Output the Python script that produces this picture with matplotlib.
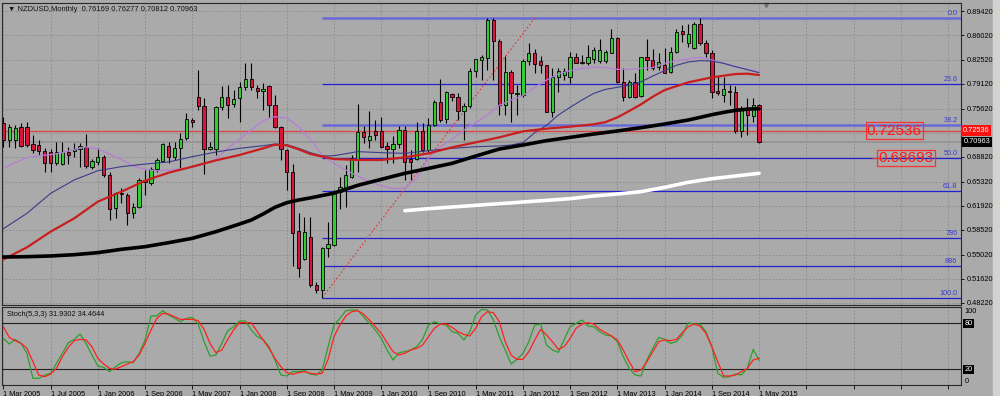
import matplotlib
matplotlib.use("Agg")
import matplotlib.pyplot as plt
from matplotlib.patches import Rectangle

# ---- data (monthly NZDUSD, bar index 0 = leftmost) ----
opens = [0.7365, 0.7120, 0.7120, 0.7299, 0.7309, 0.7059, 0.7045, 0.6970, 0.6956, 0.6791,
         0.6781, 0.6956, 0.6970, 0.6993, 0.7026, 0.6744, 0.6814, 0.6885, 0.6626, 0.6155,
         0.6377, 0.6344, 0.6085, 0.6179, 0.6556, 0.6518, 0.6706, 0.6829, 0.7040, 0.6885,
         0.7003, 0.7144, 0.7403, 0.7723, 0.7601, 0.6993, 0.6989, 0.7591, 0.7723, 0.7629,
         0.7709, 0.7864, 0.7982, 0.7850, 0.7817, 0.7883, 0.7610, 0.7299, 0.6979, 0.6673,
         0.5840, 0.5435, 0.5755, 0.5073, 0.5002, 0.5590, 0.5638, 0.6391, 0.6438, 0.6593,
         0.6847, 0.7238, 0.7120, 0.7248, 0.7248, 0.7036, 0.6989, 0.7059, 0.7262, 0.6847,
         0.6847, 0.7248, 0.6979, 0.7332, 0.7662, 0.7412, 0.7765, 0.7732, 0.7530, 0.7601,
         0.8095, 0.8250, 0.8274, 0.8815, 0.8523, 0.7615, 0.8085, 0.7770, 0.7756, 0.8241,
         0.8344, 0.8241, 0.8180, 0.7521, 0.8005, 0.8038, 0.8005, 0.8288, 0.8226, 0.8203,
         0.8259, 0.8241, 0.8241, 0.8354, 0.8556, 0.7944, 0.7732, 0.7944, 0.7742, 0.8288,
         0.8250, 0.8156, 0.8180, 0.8085, 0.8368, 0.8660, 0.8485, 0.8415, 0.8754, 0.8495,
         0.8354, 0.7817, 0.7756, 0.7817, 0.7794, 0.7252, 0.7544, 0.7459, 0.76169]
highs = [0.7450, 0.7346, 0.7332, 0.7365, 0.7370, 0.7191, 0.7120, 0.7003, 0.6989, 0.7097,
         0.7097, 0.7026, 0.7083, 0.7073, 0.7200, 0.6847, 0.7003, 0.6909, 0.6673, 0.6391,
         0.6438, 0.6377, 0.6226, 0.6579, 0.6697, 0.6744, 0.6861, 0.7083, 0.7097, 0.7097,
         0.7215, 0.7497, 0.7426, 0.8109, 0.7709, 0.7097, 0.7601, 0.7883, 0.7897, 0.7827,
         0.7944, 0.8212, 0.8203, 0.7897, 0.7921, 0.7897, 0.7756, 0.7318, 0.6989, 0.6781,
         0.6085, 0.6038, 0.6038, 0.5120, 0.5614, 0.5967, 0.6414, 0.6603, 0.6767, 0.6909,
         0.7624, 0.7318, 0.7530, 0.7403, 0.7450, 0.7097, 0.7177, 0.7318, 0.7318, 0.6979,
         0.7370, 0.7365, 0.7426, 0.7685, 0.7977, 0.7817, 0.7789, 0.7779, 0.7648, 0.8132,
         0.8264, 0.8321, 0.8838, 0.8838, 0.8542, 0.8307, 0.8109, 0.7897, 0.8259, 0.8485,
         0.8401, 0.8307, 0.8185, 0.8132, 0.8132, 0.8132, 0.8368, 0.8344, 0.8321, 0.8462,
         0.8429, 0.8542, 0.8391, 0.8683, 0.8580, 0.8132, 0.7968, 0.8062, 0.8297, 0.8542,
         0.8401, 0.8344, 0.8415, 0.8429, 0.8683, 0.8744, 0.8758, 0.8791, 0.8838, 0.8532,
         0.8391, 0.8024, 0.8005, 0.7897, 0.7883, 0.7601, 0.7709, 0.7709, 0.76277]
lows = [0.7026, 0.7026, 0.7003, 0.7026, 0.7022, 0.6932, 0.6909, 0.6673, 0.6673, 0.6767,
        0.6767, 0.6781, 0.6885, 0.6744, 0.6720, 0.6706, 0.6767, 0.6603, 0.5991, 0.6014,
        0.6226, 0.5920, 0.6014, 0.6155, 0.6344, 0.6485, 0.6673, 0.6814, 0.6791, 0.6838,
        0.6720, 0.7120, 0.7309, 0.7544, 0.6640, 0.6979, 0.6909, 0.7544, 0.7426, 0.7591,
        0.7379, 0.7827, 0.7827, 0.7709, 0.7544, 0.7450, 0.7285, 0.6838, 0.6414, 0.5341,
        0.5191, 0.5426, 0.5049, 0.4965, 0.4896, 0.5473, 0.5624, 0.6141, 0.6179, 0.6579,
        0.6673, 0.7073, 0.7003, 0.7120, 0.7003, 0.6800, 0.6800, 0.7003, 0.6556, 0.6556,
        0.6838, 0.6956, 0.6956, 0.7318, 0.7379, 0.7356, 0.7676, 0.7403, 0.7120, 0.7568,
        0.8015, 0.7968, 0.8109, 0.7968, 0.7473, 0.7473, 0.7379, 0.7473, 0.7732, 0.8180,
        0.8071, 0.8071, 0.7515, 0.7440, 0.7803, 0.7968, 0.7921, 0.8203, 0.8194, 0.8180,
        0.8203, 0.8203, 0.8203, 0.8344, 0.7930, 0.7676, 0.7709, 0.7709, 0.7732, 0.8109,
        0.8109, 0.8109, 0.8062, 0.8062, 0.8344, 0.8509, 0.8438, 0.8401, 0.8462, 0.8297,
        0.7709, 0.7756, 0.7662, 0.7615, 0.7215, 0.7167, 0.7191, 0.7379, 0.70812]
closes = [0.7120, 0.7309, 0.7295, 0.7040, 0.7045, 0.6979, 0.6970, 0.6800, 0.6791, 0.6956,
          0.6956, 0.6909, 0.6989, 0.7036, 0.6753, 0.6819, 0.6876, 0.6626, 0.6141, 0.6367,
          0.6353, 0.6085, 0.6179, 0.6556, 0.6527, 0.6706, 0.6838, 0.7059, 0.6885, 0.7003,
          0.7139, 0.7417, 0.7370, 0.7601, 0.6989, 0.7017, 0.7591, 0.7723, 0.7615, 0.7695,
          0.7864, 0.7987, 0.7864, 0.7817, 0.7836, 0.7615, 0.7299, 0.6989, 0.6673, 0.5812,
          0.5308, 0.5817, 0.5073, 0.5002, 0.5590, 0.5647, 0.6391, 0.6452, 0.6626, 0.6871,
          0.7229, 0.7167, 0.7177, 0.7191, 0.7026, 0.6989, 0.7064, 0.7262, 0.6814, 0.6814,
          0.7248, 0.6979, 0.7332, 0.7662, 0.7403, 0.7798, 0.7723, 0.7530, 0.7601, 0.8095,
          0.8259, 0.8288, 0.8815, 0.8523, 0.7615, 0.8085, 0.7779, 0.7789, 0.8241, 0.8344,
          0.8189, 0.8180, 0.7521, 0.8005, 0.8095, 0.8095, 0.8288, 0.8212, 0.8203, 0.8288,
          0.8391, 0.8391, 0.8368, 0.8556, 0.7944, 0.7732, 0.7944, 0.7723, 0.8288, 0.8250,
          0.8132, 0.8217, 0.8071, 0.8368, 0.8650, 0.8617, 0.8612, 0.8754, 0.8485, 0.8354,
          0.7803, 0.7779, 0.7836, 0.7794, 0.7252, 0.7544, 0.7473, 0.7615, 0.70963]

# moving averages at these bars
black_bars = [0, 4, 8, 12, 16, 20, 24, 28, 32, 36, 40, 42, 44, 46, 48, 50, 52, 56, 60,
              64, 68, 72, 76, 80, 84, 88, 92, 96, 100, 104, 108, 112, 116, 118, 120, 122,
              124, 126, 128]
ma_black = [0.5468, 0.5473, 0.5483, 0.5501, 0.5530, 0.5577, 0.5614, 0.5671, 0.5732, 0.5826,
            0.5934, 0.5991, 0.6076, 0.6170, 0.6235, 0.6273, 0.6303, 0.6370, 0.6480, 0.6565,
            0.6650, 0.6720, 0.6791, 0.6894, 0.6993, 0.7050, 0.7111, 0.7158, 0.7205, 0.7248,
            0.7295, 0.7346, 0.7403, 0.7440, 0.7478, 0.7511, 0.7539, 0.7556, 0.7562]
red_bars = [0, 4, 8, 12, 16, 20, 24, 28, 32, 36, 40, 44, 46, 48, 50, 52, 56, 60, 64, 68,
            72, 76, 80, 84, 88, 92, 96, 100, 102, 104, 106, 108, 110, 112, 116, 120, 124,
            126, 128]
ma_red = [0.5435, 0.5605, 0.5826, 0.6014, 0.6250, 0.6391, 0.6546, 0.6659, 0.6744, 0.6833,
          0.6909, 0.7003, 0.7054, 0.7045, 0.6989, 0.6923, 0.6852, 0.6838, 0.6838, 0.6876,
          0.6932, 0.7017, 0.7087, 0.7158, 0.7243, 0.7281, 0.7309, 0.7342, 0.7374, 0.7440,
          0.7530, 0.7624, 0.7732, 0.7826, 0.7935, 0.8005, 0.8052, 0.8057, 0.8038]
navy_bars = [0, 4, 8, 12, 16, 20, 24, 28, 32, 36, 40, 44, 46, 48, 50, 52, 54, 56, 60, 64,
             68, 72, 76, 80, 84, 86, 88, 90, 92, 94, 96, 98, 100, 102, 104, 106, 108, 110,
             112, 114, 116, 118, 120, 122, 124, 126, 128]
ma_navy = [0.5868, 0.6085, 0.6367, 0.6556, 0.6687, 0.6744, 0.6781, 0.6810, 0.6885, 0.6951,
           0.7003, 0.7040, 0.7064, 0.7055, 0.7003, 0.6942, 0.6894, 0.6899, 0.6956, 0.6942,
           0.6932, 0.6970, 0.7003, 0.7026, 0.7036, 0.7050, 0.7083, 0.7224, 0.7328, 0.7474,
           0.7582, 0.7685, 0.7779, 0.7836, 0.7864, 0.7892, 0.7944, 0.8024, 0.8100, 0.8175,
           0.8222, 0.8241, 0.8236, 0.8203, 0.8156, 0.8114, 0.8071]
violet_bars = list(range(0, 129, 2))
ma_violet = [0.6720, 0.6800, 0.6876, 0.6899, 0.6913, 0.6941, 0.6989, 0.7022, 0.6993, 0.6923,
             0.6847, 0.6753, 0.6706, 0.6687, 0.6697, 0.6711, 0.6734, 0.6781, 0.6852, 0.7003,
             0.7130, 0.7262, 0.7393, 0.7450, 0.7431, 0.7309, 0.7130, 0.6909, 0.6791, 0.6697,
             0.6612, 0.6532, 0.6475, 0.6433, 0.6442, 0.6579, 0.6861, 0.7026, 0.7130, 0.7262,
             0.7365, 0.7473, 0.7610, 0.7685, 0.7746, 0.7864, 0.7968, 0.8053, 0.8100, 0.8132,
             0.8147, 0.8142, 0.8118, 0.8118, 0.8132, 0.8142, 0.8203, 0.8241, 0.8269, 0.8288,
             0.8250, 0.8203, 0.8156, 0.8118, 0.8085]
white_bars = list(range(68, 129, 4))
ma_white = [0.6122, 0.6151, 0.6174, 0.6198, 0.6221, 0.6245, 0.6268, 0.6292, 0.6330, 0.6358,
            0.6391, 0.6452, 0.6523, 0.6574, 0.6612, 0.6650]

# stochastic (5,3,3)
stoch_k = [60.3, 52.9, 59.0, 53.8, 40.8, 8.2, 8.2, 12.5, 14.7, 27.7,
           40.8, 54.7, 59.0, 66.0, 53.8, 38.6, 24.2, 22.5, 16.9, 23.4,
           28.6, 29.9, 28.6, 40.8, 58.2, 89.4, 89.9, 96.4, 90.7, 86.4,
           82.1, 86.4, 87.7, 79.0, 56.0, 37.3, 38.6, 53.8, 70.3, 75.5,
           82.9, 82.9, 71.2, 62.5, 59.0, 49.5, 32.1, 12.5, 11.2, 16.9,
           16.9, 18.2, 13.8, 12.5, 19.0, 49.5, 77.7, 86.4, 96.4, 97.3,
           97.3, 88.6, 79.9, 71.2, 60.3, 45.1, 32.1, 41.6, 43.0, 45.1,
           49.5, 59.0, 77.7, 82.1, 79.0, 77.7, 69.0, 66.8, 58.2, 69.0,
           90.7, 98.1, 97.3, 84.2, 62.5, 45.1, 26.9, 32.9, 40.8, 56.0,
           77.7, 79.0, 51.6, 45.1, 42.1, 59.0, 75.5, 79.9, 84.2, 76.4,
           75.5, 69.0, 64.7, 63.4, 56.0, 36.4, 21.2, 12.5, 11.2, 32.1,
           47.3, 61.6, 59.0, 53.8, 56.0, 64.7, 80.7, 79.0, 79.0, 69.0,
           49.5, 14.7, 9.5, 10.3, 13.8, 12.5, 21.2, 46.0, 31.93]
stoch_d = [75.5, 61.6, 57.3, 53.8, 47.3, 29.9, 12.5, 10.3, 13.8, 21.2,
           36.4, 48.6, 57.3, 59.0, 58.2, 49.5, 34.2, 26.9, 21.2, 20.3,
           23.4, 26.9, 29.9, 38.6, 53.8, 71.2, 86.4, 92.9, 92.0, 88.6,
           85.1, 85.1, 85.1, 83.4, 72.1, 53.8, 41.6, 45.1, 59.0, 71.2,
           80.7, 80.7, 80.7, 69.0, 58.2, 47.3, 34.2, 23.4, 15.6, 13.4,
           15.6, 16.9, 14.7, 13.8, 14.7, 32.9, 62.5, 77.7, 89.4, 95.1,
           96.4, 92.0, 84.2, 75.5, 66.8, 54.7, 43.0, 38.6, 40.8, 45.1,
           47.3, 51.6, 62.5, 73.4, 79.0, 79.0, 74.7, 69.0, 65.5, 63.4,
           73.4, 88.6, 95.1, 93.8, 82.1, 56.0, 38.6, 32.9, 32.9, 43.0,
           58.2, 72.1, 64.7, 56.0, 46.0, 49.5, 60.3, 73.4, 79.0, 80.7,
           79.0, 72.1, 67.7, 63.4, 58.2, 45.1, 29.9, 16.9, 19.0, 29.9,
           43.0, 56.0, 58.2, 57.3, 59.0, 67.7, 75.5, 79.0, 76.4, 66.8,
           49.5, 29.9, 11.2, 11.2, 12.5, 16.9, 21.2, 32.1, 34.46]

# fibonacci retracement anchors
fib_low_bar, fib_low = 54, 0.48955
fib_high_bar, fib_high = 90, 0.88430
fib_levels = [0.0, 23.6, 38.2, 50.0, 61.8, 78.6, 88.6, 100.0]
fib_names = ["0.0", "23.6", "38.2", "50.0", "61.8", "786", "886", "100.0"]

price_ticks = [0.8942, 0.8602, 0.8252, 0.7912, 0.7562, 0.7222, 0.6882, 0.6532,
               0.6192, 0.5852, 0.5502, 0.5162, 0.4822]
date_labels = ["1 Mar 2005", "1 Jul 2005", "1 Jan 2006", "1 Sep 2006", "1 May 2007",
               "1 Jan 2008", "1 Sep 2008", "1 May 2009", "1 Jan 2010", "1 Sep 2010",
               "1 May 2011", "1 Jan 2012", "1 Sep 2012", "1 May 2013", "1 Jan 2014",
               "1 Sep 2014", "1 May 2015"]
line_level = 0.72536
bid = 0.70963
box_level = 0.68693

BG = "#aaaaaa"
GRID = "#8a8a8a"
FONT = ["Liberation Sans", "DejaVu Sans"]
plt.rcParams["font.family"] = FONT

fig = plt.figure(figsize=(10, 3.96), dpi=100, facecolor=BG)
fig.patches.append(Rectangle((0.993, 0), 0.007, 1, transform=fig.transFigure,
                             color="#d4d2ce", zorder=0))

ax = fig.add_axes([0.002, 0.2298, 0.959, 0.7626], facecolor=BG)
ax2 = fig.add_axes([0.002, 0.0278, 0.959, 0.1969], facecolor=BG)

xmin, xmax = -0.23, 162.2
n = len(closes)

# ---- candles ----
for i in range(n):
    up = closes[i] >= opens[i]
    ax.vlines(i, lows[i], highs[i], color="black", lw=0.8, zorder=4)
    lo, hi = min(opens[i], closes[i]), max(opens[i], closes[i])
    ax.add_patch(Rectangle((i - 0.28, lo), 0.56, max(hi - lo, 0.0006),
                           facecolor="#32cd32" if up else "#dc143c",
                           edgecolor="black", lw=0.6, zorder=5))

# ---- moving averages ----
kw = dict(solid_joinstyle="round", solid_capstyle="round")
ax.plot(violet_bars, ma_violet, color="#b77dd8", lw=0.9, zorder=6, **kw)
ax.plot(navy_bars, ma_navy, color="#3c3c8c", lw=0.8, zorder=6, **kw)
ax.plot(red_bars, ma_red, color="#c81e1e", lw=1.6, zorder=6, **kw)
ax.plot(black_bars, ma_black, color="black", lw=2.6, zorder=7, **kw)
ax.plot(white_bars, ma_white, color="white", lw=2.6, zorder=7, **kw)

# ---- horizontal lines ----
ax.axhline(line_level, color="#e04040", lw=0.9, zorder=3)
ax.axhline(bid, color="#939393", lw=1.2, zorder=2)

# ---- fibonacci ----
rng = fib_high - fib_low
for lev, name in zip(fib_levels, fib_names):
    y = fib_high - rng * lev / 100
    thick = lev in (0.0, 38.2)
    ax.hlines(y, fib_low_bar, xmax, color="#6a6ad8" if thick else "#2020d0",
              lw=1.8 if thick else 0.9, zorder=3)
    ax.text(161.6, y + 0.0012, name, color="#3a3ad0", fontsize=5.2,
            ha="right", va="bottom", zorder=8)
ax.plot([fib_low_bar, fib_high_bar], [fib_low, fib_high], color="#e83030",
        lw=0.8, ls=(0, (1.5, 2)), zorder=3)

# ---- price boxes ----
ax.text(150.9, line_level, "0.72536", color="#ff1a1a", fontsize=11, ha="center",
        va="center", zorder=9,
        bbox=dict(boxstyle="square,pad=0.08", fc="none", ec="#ff3030", lw=0.9))
ax.hlines(box_level, 147.1, 148.8, color="#ff3030", lw=0.9, zorder=9)
ax.text(152.9, box_level, "0.68693", color="#ff1a1a", fontsize=11, ha="center",
        va="center", zorder=9,
        bbox=dict(boxstyle="square,pad=0.08", fc="none", ec="#ff3030", lw=0.9))

ax.text(0.006, 0.978, "\u25bc NZDUSD,Monthly  0.76169 0.76277 0.70812 0.70963",
        transform=ax.transAxes, fontsize=5.4, color="#111111", va="center", ha="left")
ax.plot([0.797], [0.995], marker="v", ms=3, color="#707070",
        transform=ax.transAxes, clip_on=False)

ax.set_xlim(xmin, xmax)
ax.set_ylim(0.47906, 0.90550)
ax.set_xticks(range(0, 161, 8))
ax.tick_params(axis="x", length=0, labelbottom=False)
ax.yaxis.tick_right()
ax.set_yticks(price_ticks)
ax.set_yticklabels(["%.5f" % v if v != 0.7222 else "" for v in price_ticks])
ax.tick_params(axis="y", direction="out", length=2.5, width=0.6, pad=1.5,
               labelsize=5.3, colors="black")
ax.grid(True, color=GRID, ls=(0, (2, 2)), lw=0.6, zorder=1)

# axis price tags
ax.text(1.0015, line_level, "0.72536", transform=ax.get_yaxis_transform(),
        fontsize=5.3, color="white", va="center", ha="left",
        bbox=dict(boxstyle="square,pad=0.25", fc="#ff1010", ec="none"))
ax.text(1.003, bid, "0.70963", transform=ax.get_yaxis_transform(),
        fontsize=5.3, color="white", va="center", ha="left",
        bbox=dict(boxstyle="square,pad=0.2", fc="black", ec="none"))

# ---- stochastic panel ----
bars = list(range(n))
ax2.plot(bars, stoch_k, color="#2e9e2e", lw=0.9, zorder=4)
ax2.plot(bars, stoch_d, color="#ff2020", lw=0.9, zorder=5)
ax2.axhline(80, color="#202020", lw=0.8, zorder=3)
ax2.axhline(20, color="#202020", lw=0.8, zorder=3)
ax2.set_xlim(xmin, xmax)
ax2.set_ylim(-0.5, 101.2)
ax2.set_yticks([])
ax2.set_xticks(range(0, 161, 8))
ax2.set_xticklabels(date_labels + [""] * 4, ha="left")
ax2.tick_params(axis="x", direction="out", length=3, width=0.6, pad=1,
                labelsize=5.3, colors="black")
ax2.grid(True, axis="x", color=GRID, ls=(0, (2, 2)), lw=0.6, zorder=1)
ax2.text(0.005, 0.9, "Stoch(5,3,3) 31.9302 34.4644", transform=ax2.transAxes,
         fontsize=5.3, va="center", ha="left", color="#111111")
yt = ax2.get_yaxis_transform()
ax2.text(1.004, 100, "100", transform=yt, fontsize=5.3, va="top", ha="left")
ax2.text(1.004, 0, "0", transform=yt, fontsize=5.3, va="bottom", ha="left")
for lv in (80, 20):
    ax2.text(1.0035, lv, str(lv), transform=yt, fontsize=5.3, va="center", ha="left",
             color="white", bbox=dict(boxstyle="square,pad=0.15", fc="black", ec="none"))

for a in (ax, ax2):
    for s in a.spines.values():
        s.set_color("#2a2a2a")
        s.set_linewidth(0.8)

fig.savefig("out.png", dpi=100, facecolor=BG)
